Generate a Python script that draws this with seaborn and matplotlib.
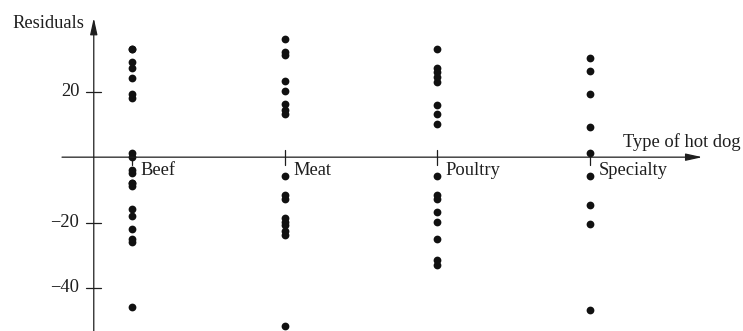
import pandas as pd
import matplotlib
matplotlib.use('Agg')
import matplotlib.pyplot as plt
import seaborn as sns

# Residuals by type of hot dog
types = ['Beef', 'Meat', 'Poultry', 'Specialty']
beef = [33.2, 33.2, 29.2, 27.2, 24.2, 19.2, 18.2, 1.2, 0.2, -3.9, -4.9,
        -7.9, -7.9, -8.9, -15.9, -17.9, -21.9, -24.9, -25.9, -45.9]
meat = [36.3, 32.3, 31.3, 23.3, 20.3, 16.3, 14.3, 13.3, -5.7, -11.7, -12.7,
        -18.7, -19.7, -20.7, -22.7, -23.7, -51.7]
poultry = [33.0, 27.3, 26.1, 24.6, 23.0, 16.1, 13.1, 10.1, -5.7, -11.6, -12.9,
           -16.8, -19.8, -24.9, -31.5, -33.0]
specialty = [30.2, 26.3, 19.3, 9.3, 1.4, -5.7, -14.7, -20.6, -46.8]
yticks = [20, -20, -40]

groups = [beef, meat, poultry, specialty]
df = pd.DataFrame({
    'type': [t for t, g in zip(types, groups) for _ in g],
    'residual': [v for g in groups for v in g],
})

sns.set_style('white')
plt.rcParams['font.family'] = ['Liberation Serif', 'DejaVu Serif']

fig = plt.figure(figsize=(7.43, 3.31), dpi=100)
ax = fig.add_axes([0, 0, 1, 1])

sns.stripplot(data=df, x='type', y='residual', order=types, jitter=False,
              color='#111111', size=5.6, linewidth=0, ax=ax, zorder=3)

# pixel layout of the original: categories 152.7 px apart, 3.267 px per unit
ax.set_xlim(-0.864, 4.001)
ax.set_ylim(-53.2, 48.1)
ax.axis('off')

line_kw = dict(color='#1e1e1e', lw=0.9)
yaxis_x = -0.25
arrow = dict(arrowstyle='-|>,head_length=1.0,head_width=0.22',
             color='#1e1e1e', lw=0.9, shrinkA=0, shrinkB=0)

# horizontal and vertical axes with arrows
ax.annotate('', xy=(3.735, 0), xytext=(-0.458, 0), arrowprops=arrow)
ax.annotate('', xy=(yaxis_x, 42.6), xytext=(yaxis_x, -53.2), arrowprops=arrow)

# y ticks
for t in yticks:
    ax.plot([yaxis_x - 0.052, yaxis_x + 0.048], [t, t], **line_kw)
    ax.text(yaxis_x - 0.095, t, f'{t}'.replace('-', '\u2212'), ha='right',
            va='center', fontsize=13.3, color='#1e1e1e')

# x ticks and category labels
for i, t in enumerate(types):
    ax.plot([i, i], [2.2, -2.4], **line_kw)
    ax.text(i + 0.055, -4.0, t, ha='left', va='center', fontsize=13.3,
            color='#1e1e1e')

ax.text(yaxis_x - 0.06, 41.0, 'Residuals', ha='right', va='center',
        fontsize=13.3, color='#1e1e1e')
ax.text(3.215, 4.6, 'Type of hot dog', ha='left', va='center', fontsize=13.3,
        color='#1e1e1e')

fig.savefig('out.png', dpi=100)
